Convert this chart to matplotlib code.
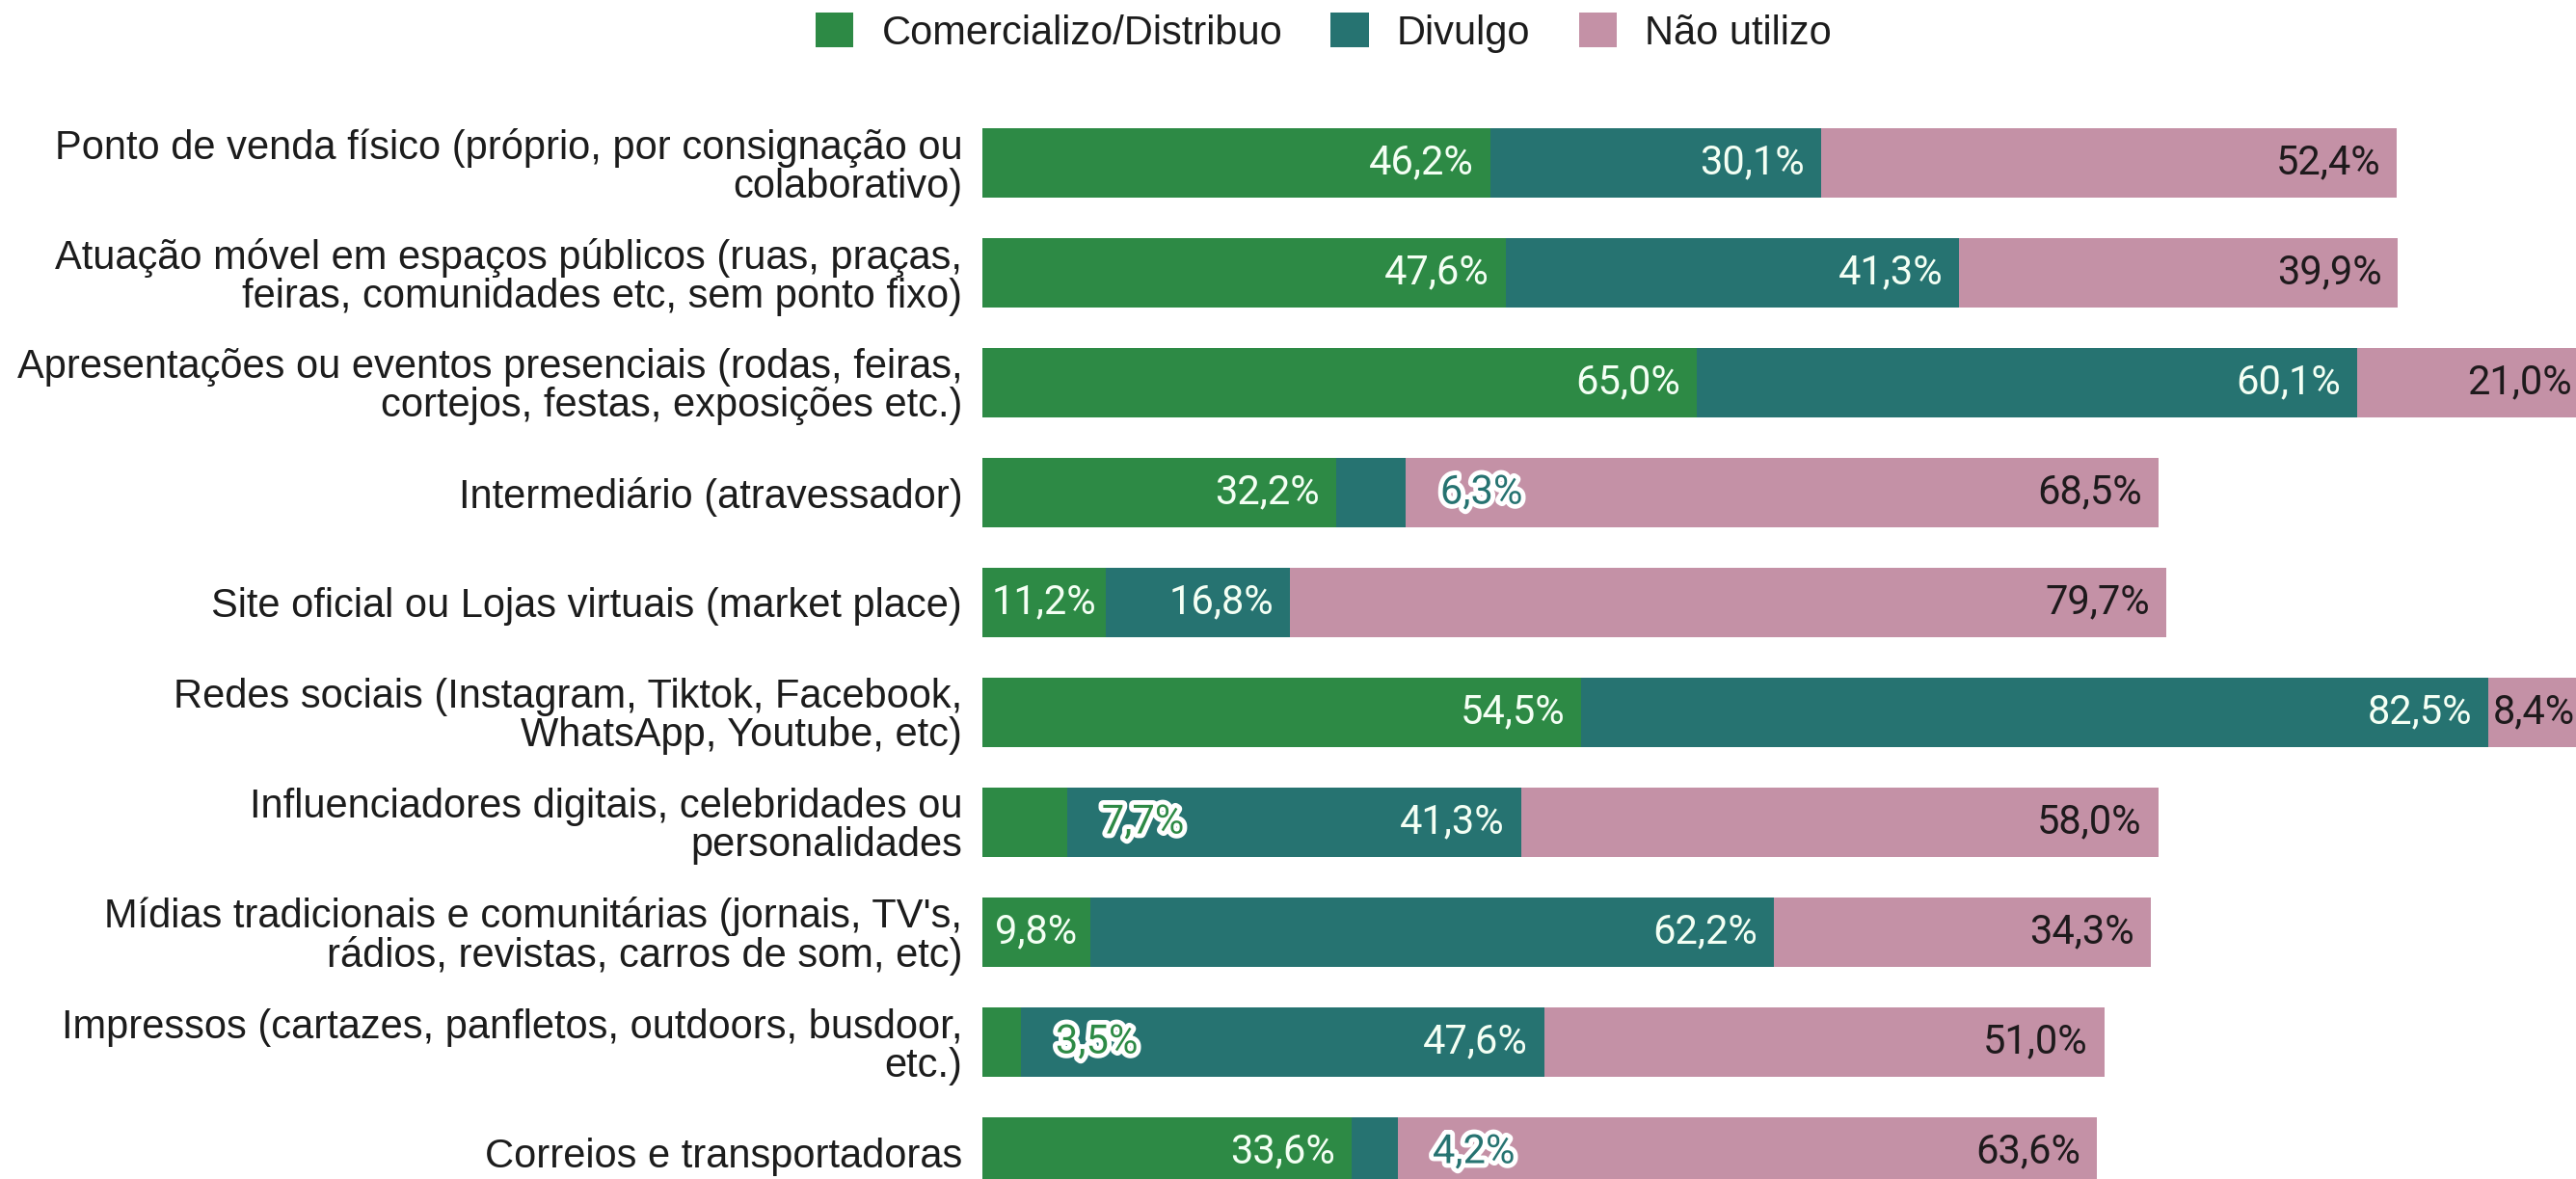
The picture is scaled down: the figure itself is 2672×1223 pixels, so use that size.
import matplotlib

matplotlib.use("Agg")
import matplotlib.pyplot as plt
import matplotlib.patheffects as pe
from matplotlib.patches import Patch

categories = [
    "Ponto de venda físico (próprio, por consignação ou\ncolaborativo)",
    "Atuação móvel em espaços públicos (ruas, praças,\nfeiras, comunidades etc, sem ponto fixo)",
    "Apresentações ou eventos presenciais (rodas, feiras,\ncortejos, festas, exposições etc.)",
    "Intermediário (atravessador)",
    "Site oficial ou Lojas virtuais (market place)",
    "Redes sociais (Instagram, Tiktok, Facebook,\nWhatsApp, Youtube, etc)",
    "Influenciadores digitais, celebridades ou\npersonalidades",
    "Mídias tradicionais e comunitárias (jornais, TV's,\nrádios, revistas, carros de som, etc)",
    "Impressos (cartazes, panfletos, outdoors, busdoor,\netc.)",
    "Correios e transportadoras",
]
series_names = ["Comercializo/Distribuo", "Divulgo", "Não utilizo"]
comercializo = [46.2, 47.6, 65.0, 32.2, 11.2, 54.5, 7.7, 9.8, 3.5, 33.6]
divulgo = [30.1, 41.3, 60.1, 6.3, 16.8, 82.5, 41.3, 62.2, 47.6, 4.2]
nao_utilizo = [52.4, 39.9, 21.0, 68.5, 79.7, 8.4, 58.0, 34.3, 51.0, 63.6]

COLORS = ["#2d8a45", "#267371", "#c491a6"]
LABEL_COLORS = ["#f4fff4", "#f4fff4", "#1e1a1c"]
LABEL_FONT = "Roboto"
TEXT_FONT = "Liberation Sans"

PX = 0.72  # points per pixel at dpi 100

fig = plt.figure(figsize=(26.72, 12.23), dpi=100)
ax = fig.add_axes([1019 / 2672, 0.0, 1 - 1019 / 2672, 1123 / 1223])

ys = list(range(len(categories)))
lefts = [0.0] * len(categories)
for s, values in enumerate([comercializo, divulgo, nao_utilizo]):
    ax.barh(ys, values, left=lefts, height=0.63, color=COLORS[s], linewidth=0)
    for y, left, v in zip(ys, lefts, values):
        text = f"{v:.1f}".replace(".", ",") + "%"
        end = left + v
        common = dict(textcoords="offset points", va="center", fontsize=30,
                      family=LABEL_FONT, annotation_clip=False)
        if v < 8:
            # too narrow: label sits just after the segment, outlined
            ax.annotate(text, (end, y), xytext=(36 * PX, 0), ha="left",
                        color=COLORS[s],
                        path_effects=[pe.withStroke(linewidth=7, foreground="white")],
                        **common)
        elif v < 12:
            ax.annotate(text, (left + v / 2, y), xytext=(0, 0), ha="center",
                        color=LABEL_COLORS[s], **common)
        else:
            ax.annotate(text, (end, y), xytext=(-17 * PX, 0), ha="right",
                        color=LABEL_COLORS[s], **common)
    lefts = [a + b for a, b in zip(lefts, values)]

ax.set_xlim(0, 145.0)
ax.set_ylim(9 + 28 / 114, -69 / 114)
ax.set_yticks(ys)
ax.set_yticklabels(categories, fontsize=30, family=TEXT_FONT, color="#1c1c1c",
                   linespacing=1.0)
ax.tick_params(axis="y", length=0, pad=15)
ax.set_xticks([])
for spine in ax.spines.values():
    spine.set_visible(False)

handles = [Patch(facecolor=c, edgecolor="none", label=n) for c, n in zip(COLORS, series_names)]
fig.legend(handles=handles, loc="center", bbox_to_anchor=(1373 / 2672, 1 - 34 / 1223),
           ncol=3, frameon=False, prop={"family": TEXT_FONT, "size": 30},
           handlelength=0.95, handleheight=0.95, handletextpad=0.7, columnspacing=1.2,
           labelcolor="#1c1c1c")

fig.savefig("out.png", dpi=100)
